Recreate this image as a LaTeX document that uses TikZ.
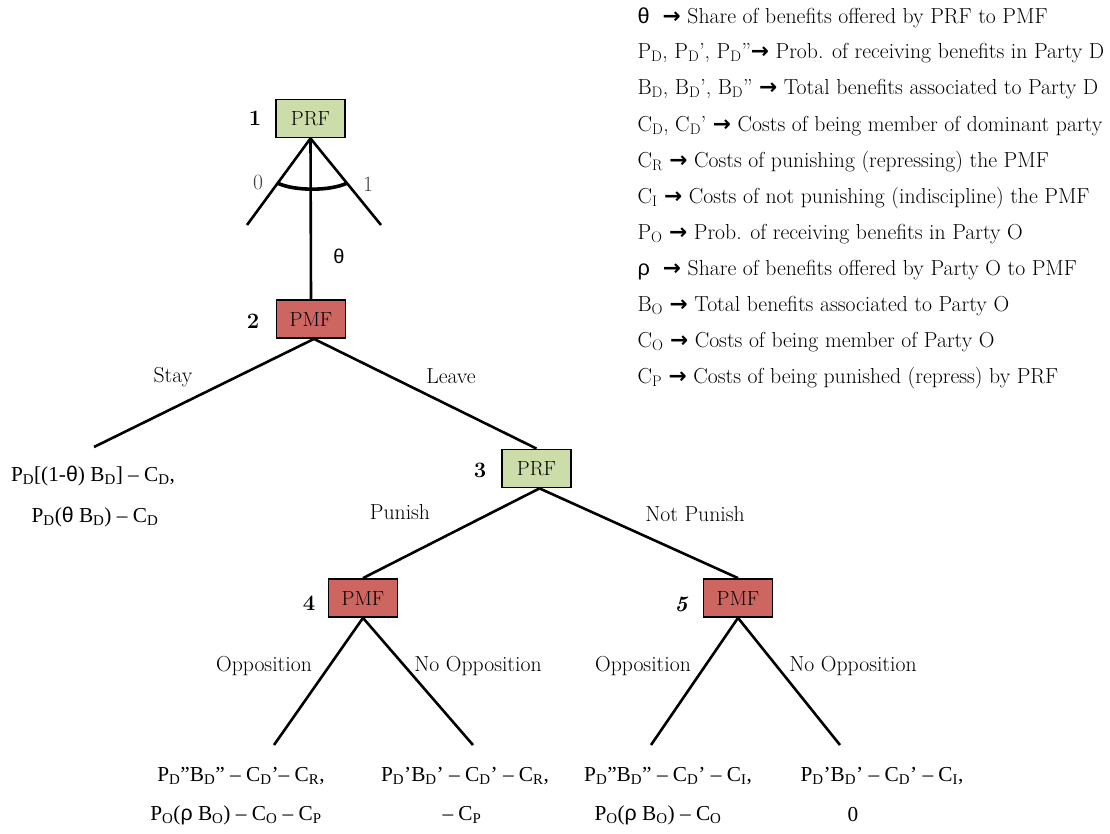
\documentclass[tikz,border=0pt]{standalone}
\usepackage{fontspec}
\usetikzlibrary{calc}
\newfontfamily\payfont[Ligatures=TeX]{Liberation Serif}
\newfontfamily\grkfont{Liberation Sans}
\newfontfamily\arrfont{DejaVu Sans}
\newcommand{\thet}{{\grkfont θ}}
\newcommand{\rh}{{\grkfont ρ}}
\newcommand{\legarr}{{\arrfont\bfseries →}}
\newcommand{\sbs}[1]{\textsubscript{#1}}
\definecolor{prfgreen}{RGB}{204,221,170}
\definecolor{pmfred}{RGB}{205,102,96}
\begin{document}
\begin{tikzpicture}[x=1pt,y=-1pt,
  box/.style={draw=black,line width=1.8pt,minimum width=69pt,minimum height=38pt,inner sep=0pt,font=\fontsize{20.5}{24}\selectfont},
  prf/.style={box,fill=prfgreen},
  pmf/.style={box,fill=pmfred},
  num/.style={font=\fontsize{22}{24}\selectfont\bfseries},
  edge/.style={line width=2.6pt},
  lab/.style={font=\fontsize{21.7}{25}\selectfont},
  pay/.style={font=\payfont\fontsize{21.3}{25}\selectfont},
  leg/.style={anchor=west,font=\fontsize{21.7}{25}\selectfont}]
\useasboundingbox (0,0) rectangle (1110,834);
% decision nodes
\node[prf] (p1) at (310.5,118.5) {PRF};
\node[pmf] (p2) at (311,319) {PMF};
\node[prf] (p3) at (536.5,468.5) {PRF};
\node[pmf] (p4) at (363,598) {PMF};
\node[pmf] (p5) at (738,598) {PMF};
\node[num] (n1) at (255,118) {1};
\node[num] (n2) at (253,321) {2};
\node[num] (n3) at (480,470) {3};
\node[num] (n4) at (309,603) {4};
\node[num,font=\fontsize{22}{24}\selectfont\bfseries\itshape] (n5) at (681,604) {5};
% end points
\coordinate (l0) at (247,225);
\coordinate (l1) at (381,225);
\coordinate (s0) at (94,447);
\coordinate (t4a) at (274,745);
\coordinate (t4b) at (473,745);
\coordinate (t5a) at (651,745);
\coordinate (t5b) at (840,745);
% edges
\draw[edge] (p1.south) -- (l0);
\draw[edge] (p1.south) -- (l1);
\draw[edge] (p1.south) -- (p2.north);
\coordinate (a0) at ($(p1.south)!0.517!(l0)$);
\coordinate (a1) at ($(p1.south)!0.517!(l1)$);
\draw[line width=3.6pt] (a0) .. controls ($(a0)+(17,8)$) and ($(a1)+(-17,8)$) .. (a1);
\draw[edge] ([xshift=3pt]p2.south) -- (s0);
\draw[edge] ([xshift=3pt]p2.south) -- (p3.north);
\draw[edge] ([xshift=3pt]p3.south) -- (p4.north);
\draw[edge] ([xshift=3pt]p3.south) -- (p5.north);
\draw[edge] (p4.south) -- (t4a);
\draw[edge] (p4.south) -- (t4b);
\draw[edge] (p5.south) -- (t5a);
\draw[edge] (p5.south) -- (t5b);
% edge labels
\node[lab,text=black!75] (z0) at (258,183) {0};
\node[lab,text=black!75] (z1) at (368,184) {1};
\node[font=\grkfont\fontsize{20}{22}\selectfont] (th) at (339,256) {θ};
\node[lab] (stay) at (173,377) {Stay};
\node[lab] (leave) at (451,376) {Leave};
\node[lab] (pun) at (400,512) {Punish};
\node[lab] (npun) at (695,514) {Not Punish};
\node[lab] (o4) at (264,666) {Opposition};
\node[lab] (no4) at (478,666) {No Opposition};
\node[lab] (o5) at (643,666) {Opposition};
\node[lab] (no5) at (853,666) {No Opposition};
% payoffs
\node[pay] (ps1) at (93,476) {P\sbs{D}[(1-\thet) B\sbs{D}] -- C\sbs{D},};
\node[pay] (ps2) at (95,517) {P\sbs{D}(\thet{} B\sbs{D}) -- C\sbs{D}};
\node[pay] (pa1) at (241,776) {P\sbs{D}''B\sbs{D}'' -- C\sbs{D}'-- C\sbs{R},};
\node[pay] (pa2) at (236,815) {P\sbs{O}(\rh{} B\sbs{O}) -- C\sbs{O} -- C\sbs{P}};
\node[pay] (pb1) at (465,776) {P\sbs{D}'B\sbs{D}' -- C\sbs{D}' -- C\sbs{R},};
\node[pay] (pb2) at (462,815) {-- C\sbs{P}};
\node[pay] (pc1) at (668,776) {P\sbs{D}''B\sbs{D}'' -- C\sbs{D}' -- C\sbs{I},};
\node[pay] (pc2) at (658,815) {P\sbs{O}(\rh{} B\sbs{O}) -- C\sbs{O}};
\node[pay] (pd1) at (882,776) {P\sbs{D}'B\sbs{D}' -- C\sbs{D}' -- C\sbs{I},};
\node[pay] (pd2) at (853,815) {0};
% legend
\node[leg] (g1) at (634,18) {\thet\ \ \legarr\ Share of benefits offered by PRF to PMF};
\node[leg] (g2) at (634,53) {P\sbs{D}, P\sbs{D}', P\sbs{D}''\legarr\ Prob. of receiving benefits in Party D};
\node[leg] (g3) at (634,89) {B\sbs{D}, B\sbs{D}', B\sbs{D}'' \legarr\ Total benefits associated to Party D};
\node[leg] (g4) at (634,126) {C\sbs{D}, C\sbs{D}' \legarr\ Costs of being member of dominant party};
\node[leg] (g5) at (634,162) {C\sbs{R} \legarr\ Costs of punishing (repressing) the PMF};
\node[leg] (g6) at (634,198) {C\sbs{I} \legarr\ Costs of not punishing (indiscipline) the PMF};
\node[leg] (g7) at (634,234) {P\sbs{O} \legarr\ Prob. of receiving benefits in Party O};
\node[leg] (g8) at (634,270) {\rh\ \ \legarr\ Share of benefits offered by Party O to PMF};
\node[leg] (g9) at (634,306) {B\sbs{O} \legarr\ Total benefits associated to Party O};
\node[leg] (g10) at (634,342) {C\sbs{O} \legarr\ Costs of being member of Party O};
\node[leg] (g11) at (634,378) {C\sbs{P} \legarr\ Costs of being punished (repress) by PRF};
\end{tikzpicture}
\end{document}
